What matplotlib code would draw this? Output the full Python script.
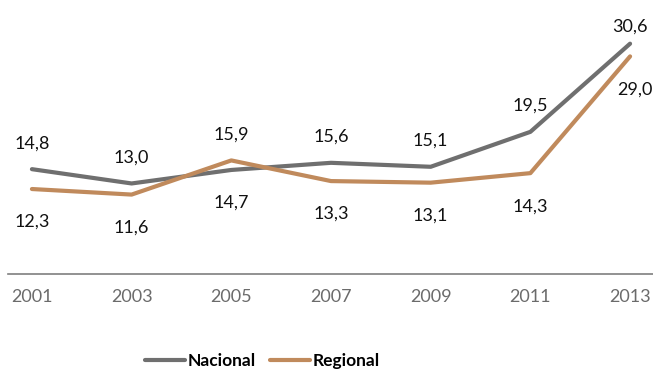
import matplotlib.pyplot as plt

years = [2001, 2003, 2005, 2007, 2009, 2011, 2013]
nacional = [14.8, 13.0, 14.7, 15.6, 15.1, 19.5, 30.6]
regional = [12.3, 11.6, 15.9, 13.3, 13.1, 14.3, 29.0]

GRAY = '#6f6f6f'
TAN = '#c08a5c'

plt.rcParams['font.family'] = ['Lato', 'DejaVu Sans']

fig = plt.figure(figsize=(6.53, 3.72), dpi=100)
ax = fig.add_axes([8 / 653, 98 / 372, 645 / 653, 274 / 372])

ax.plot(years, nacional, color=GRAY, lw=3.0, label='Nacional', solid_capstyle='round')
ax.plot(years, regional, color=TAN, lw=3.0, label='Regional', solid_capstyle='round')

ax.set_xlim(2000.52, 2013.46)
ax.set_ylim(1.6, 36.1)


def fmt(v):
    return f'{v:.1f}'.replace('.', ',')


# higher value of each pair gets its label above, lower one below
for i, (x, a, b) in enumerate(zip(years, nacional, regional)):
    up = 17 if i == len(years) - 1 else 26
    hi, lo = (a, b) if a >= b else (b, a)
    ax.annotate(fmt(hi), (x, hi), xytext=(0, up), textcoords='offset pixels',
                ha='center', va='center', fontsize=13, color='#111111')
    dx = 5 if i == len(years) - 1 else 0
    ax.annotate(fmt(lo), (x, lo), xytext=(dx, -33), textcoords='offset pixels',
                ha='center', va='center', fontsize=13, color='#111111')

for s in ['top', 'right', 'left']:
    ax.spines[s].set_visible(False)
ax.spines['bottom'].set_color('#7f7f7f')
ax.spines['bottom'].set_linewidth(1.2)
ax.set_yticks([])
ax.set_xticks(years)
ax.tick_params(axis='x', length=0, pad=11, labelsize=13, labelcolor='#6b6b6b')

leg_font = {'family': ['Lato', 'DejaVu Sans'], 'weight': 'bold', 'size': 12.5}
fig.legend(loc='center', bbox_to_anchor=(0.402, 0.03), ncol=2, frameon=False,
           prop=leg_font, handlelength=2.3, handletextpad=0.15, columnspacing=0.8)

plt.savefig('out.png', dpi=100)
plt.close()
